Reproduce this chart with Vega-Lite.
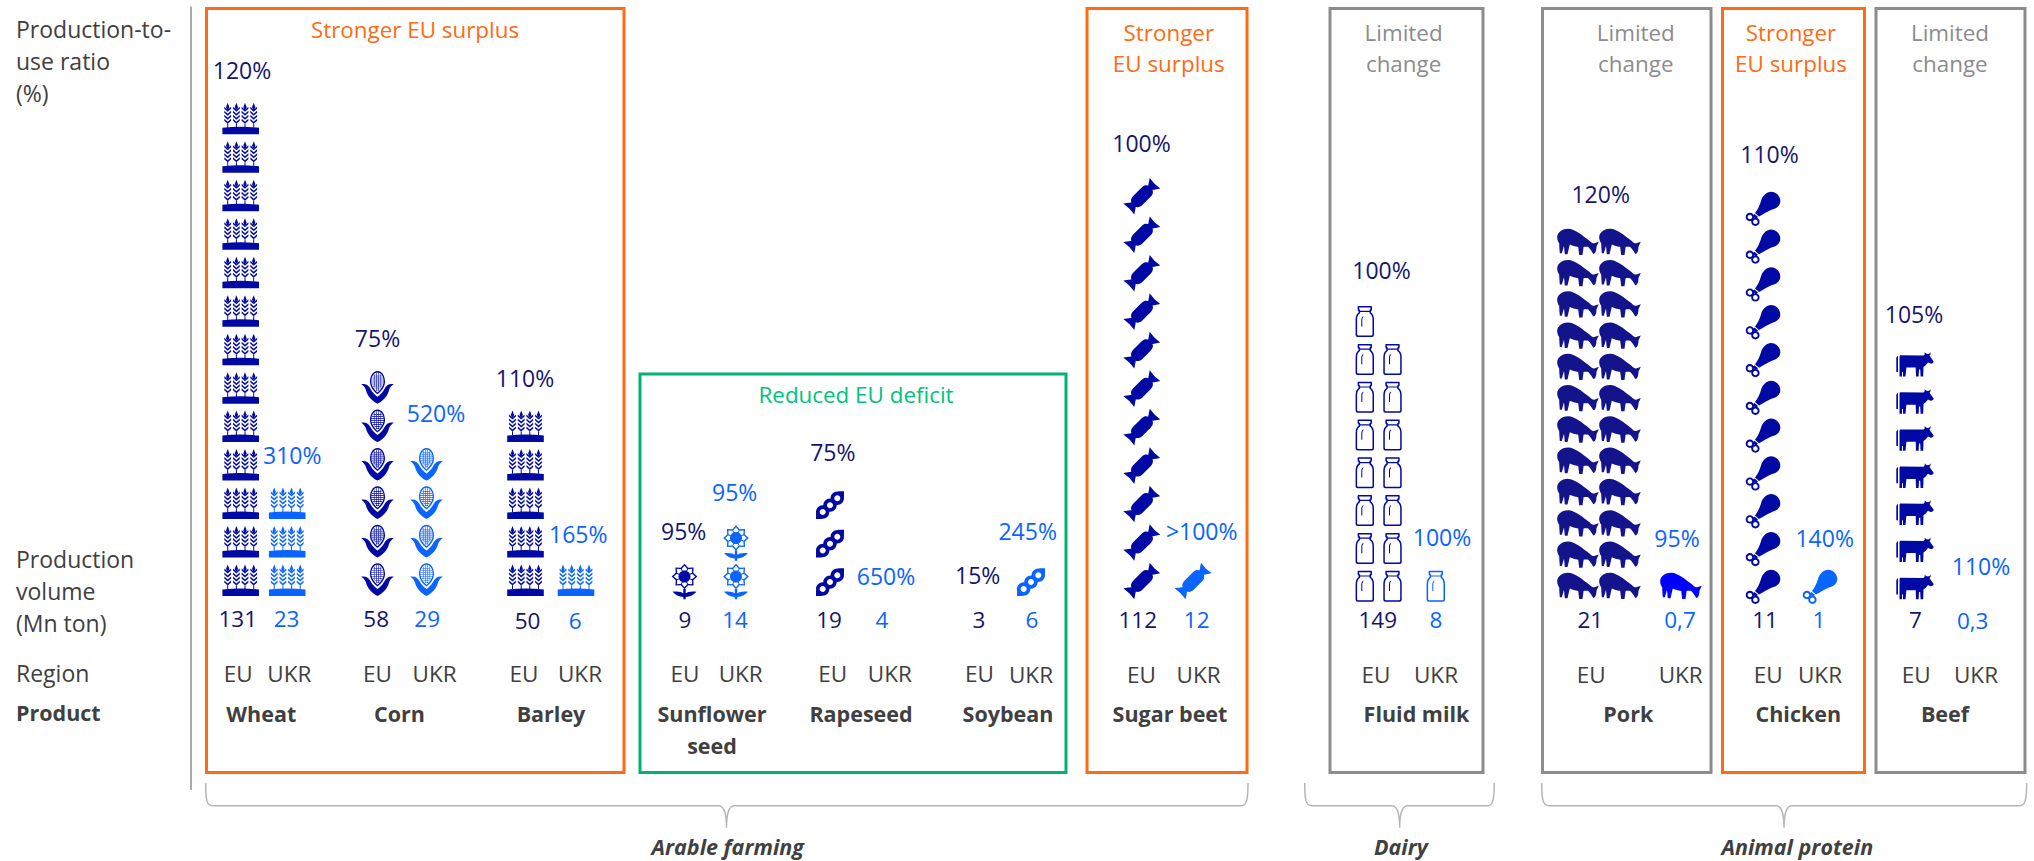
{
  "$schema": "https://vega.github.io/schema/vega-lite/v6.json",
  "width": 2034,
  "height": 861,
  "autosize": "none",
  "padding": 0,
  "background": "#ffffff",
  "config": {"view": {"stroke": null}, "text": {"font": "Open Sans"}},
  "resolve": {"scale": {"x": "independent", "y": "independent", "color": "independent", "shape": "independent", "stroke": "independent"}},
  "datasets": {
    "icons": [
      {"product":"Wheat","region":"EU","col":1,"level":1},{"product":"Wheat","region":"EU","col":1,"level":2},{"product":"Wheat","region":"EU","col":1,"level":3},{"product":"Wheat","region":"EU","col":1,"level":4},{"product":"Wheat","region":"EU","col":1,"level":5},{"product":"Wheat","region":"EU","col":1,"level":6},{"product":"Wheat","region":"EU","col":1,"level":7},{"product":"Wheat","region":"EU","col":1,"level":8},{"product":"Wheat","region":"EU","col":1,"level":9},{"product":"Wheat","region":"EU","col":1,"level":10},{"product":"Wheat","region":"EU","col":1,"level":11},{"product":"Wheat","region":"EU","col":1,"level":12},{"product":"Wheat","region":"EU","col":1,"level":13},
      {"product":"Wheat","region":"UKR","col":2,"level":1},{"product":"Wheat","region":"UKR","col":2,"level":2},{"product":"Wheat","region":"UKR","col":2,"level":3},
      {"product":"Corn","region":"EU","col":3,"level":1},{"product":"Corn","region":"EU","col":3,"level":2},{"product":"Corn","region":"EU","col":3,"level":3},{"product":"Corn","region":"EU","col":3,"level":4},{"product":"Corn","region":"EU","col":3,"level":5},{"product":"Corn","region":"EU","col":3,"level":6},
      {"product":"Corn","region":"UKR","col":4,"level":1},{"product":"Corn","region":"UKR","col":4,"level":2},{"product":"Corn","region":"UKR","col":4,"level":3},{"product":"Corn","region":"UKR","col":4,"level":4},
      {"product":"Barley","region":"EU","col":5,"level":1},{"product":"Barley","region":"EU","col":5,"level":2},{"product":"Barley","region":"EU","col":5,"level":3},{"product":"Barley","region":"EU","col":5,"level":4},{"product":"Barley","region":"EU","col":5,"level":5},
      {"product":"Barley","region":"UKR","col":6,"level":1},
      {"product":"Sunflower seed","region":"EU","col":7,"level":1},
      {"product":"Sunflower seed","region":"UKR","col":8,"level":1},{"product":"Sunflower seed","region":"UKR","col":8,"level":2},
      {"product":"Rapeseed","region":"EU","col":9,"level":1},{"product":"Rapeseed","region":"EU","col":9,"level":2},{"product":"Rapeseed","region":"EU","col":9,"level":3},
      {"product":"Soybean","region":"UKR","col":10,"level":1},
      {"product":"Sugar beet","region":"EU","col":11,"level":1},{"product":"Sugar beet","region":"EU","col":11,"level":2},{"product":"Sugar beet","region":"EU","col":11,"level":3},{"product":"Sugar beet","region":"EU","col":11,"level":4},{"product":"Sugar beet","region":"EU","col":11,"level":5},{"product":"Sugar beet","region":"EU","col":11,"level":6},{"product":"Sugar beet","region":"EU","col":11,"level":7},{"product":"Sugar beet","region":"EU","col":11,"level":8},{"product":"Sugar beet","region":"EU","col":11,"level":9},{"product":"Sugar beet","region":"EU","col":11,"level":10},{"product":"Sugar beet","region":"EU","col":11,"level":11},
      {"product":"Sugar beet","region":"UKR","col":12,"level":1},
      {"product":"Fluid milk","region":"EU","col":13,"level":1},{"product":"Fluid milk","region":"EU","col":13,"level":2},{"product":"Fluid milk","region":"EU","col":13,"level":3},{"product":"Fluid milk","region":"EU","col":13,"level":4},{"product":"Fluid milk","region":"EU","col":13,"level":5},{"product":"Fluid milk","region":"EU","col":13,"level":6},{"product":"Fluid milk","region":"EU","col":13,"level":7},{"product":"Fluid milk","region":"EU","col":13,"level":8},
      {"product":"Fluid milk","region":"EU","col":14,"level":1},{"product":"Fluid milk","region":"EU","col":14,"level":2},{"product":"Fluid milk","region":"EU","col":14,"level":3},{"product":"Fluid milk","region":"EU","col":14,"level":4},{"product":"Fluid milk","region":"EU","col":14,"level":5},{"product":"Fluid milk","region":"EU","col":14,"level":6},{"product":"Fluid milk","region":"EU","col":14,"level":7},
      {"product":"Fluid milk","region":"UKR","col":15,"level":1},
      {"product":"Pork","region":"EU","col":16,"level":1},{"product":"Pork","region":"EU","col":16,"level":2},{"product":"Pork","region":"EU","col":16,"level":3},{"product":"Pork","region":"EU","col":16,"level":4},{"product":"Pork","region":"EU","col":16,"level":5},{"product":"Pork","region":"EU","col":16,"level":6},{"product":"Pork","region":"EU","col":16,"level":7},{"product":"Pork","region":"EU","col":16,"level":8},{"product":"Pork","region":"EU","col":16,"level":9},{"product":"Pork","region":"EU","col":16,"level":10},{"product":"Pork","region":"EU","col":16,"level":11},{"product":"Pork","region":"EU","col":16,"level":12},
      {"product":"Pork","region":"EU","col":17,"level":1},{"product":"Pork","region":"EU","col":17,"level":2},{"product":"Pork","region":"EU","col":17,"level":3},{"product":"Pork","region":"EU","col":17,"level":4},{"product":"Pork","region":"EU","col":17,"level":5},{"product":"Pork","region":"EU","col":17,"level":6},{"product":"Pork","region":"EU","col":17,"level":7},{"product":"Pork","region":"EU","col":17,"level":8},{"product":"Pork","region":"EU","col":17,"level":9},{"product":"Pork","region":"EU","col":17,"level":10},{"product":"Pork","region":"EU","col":17,"level":11},{"product":"Pork","region":"EU","col":17,"level":12},
      {"product":"Pork","region":"UKR","col":18,"level":1},
      {"product":"Chicken","region":"EU","col":19,"level":1},{"product":"Chicken","region":"EU","col":19,"level":2},{"product":"Chicken","region":"EU","col":19,"level":3},{"product":"Chicken","region":"EU","col":19,"level":4},{"product":"Chicken","region":"EU","col":19,"level":5},{"product":"Chicken","region":"EU","col":19,"level":6},{"product":"Chicken","region":"EU","col":19,"level":7},{"product":"Chicken","region":"EU","col":19,"level":8},{"product":"Chicken","region":"EU","col":19,"level":9},{"product":"Chicken","region":"EU","col":19,"level":10},{"product":"Chicken","region":"EU","col":19,"level":11},
      {"product":"Chicken","region":"UKR","col":20,"level":1},
      {"product":"Beef","region":"EU","col":21,"level":1},{"product":"Beef","region":"EU","col":21,"level":2},{"product":"Beef","region":"EU","col":21,"level":3},{"product":"Beef","region":"EU","col":21,"level":4},{"product":"Beef","region":"EU","col":21,"level":5},{"product":"Beef","region":"EU","col":21,"level":6},{"product":"Beef","region":"EU","col":21,"level":7}
    ],
    "figures": [
      {"n":1,"product":"Wheat","region":"EU","ratio":"120%","volume":"131"},
      {"n":2,"product":"Wheat","region":"UKR","ratio":"310%","volume":"23"},
      {"n":3,"product":"Corn","region":"EU","ratio":"75%","volume":"58"},
      {"n":4,"product":"Corn","region":"UKR","ratio":"520%","volume":"29"},
      {"n":5,"product":"Barley","region":"EU","ratio":"110%","volume":"50"},
      {"n":6,"product":"Barley","region":"UKR","ratio":"165%","volume":"6"},
      {"n":7,"product":"Sunflower seed","region":"EU","ratio":"95%","volume":"9"},
      {"n":8,"product":"Sunflower seed","region":"UKR","ratio":"95%","volume":"14"},
      {"n":9,"product":"Rapeseed","region":"EU","ratio":"75%","volume":"19"},
      {"n":10,"product":"Rapeseed","region":"UKR","ratio":"650%","volume":"4"},
      {"n":11,"product":"Soybean","region":"EU","ratio":"15%","volume":"3"},
      {"n":12,"product":"Soybean","region":"UKR","ratio":"245%","volume":"6"},
      {"n":13,"product":"Sugar beet","region":"EU","ratio":"100%","volume":"112"},
      {"n":14,"product":"Sugar beet","region":"UKR","ratio":">100%","volume":"12"},
      {"n":15,"product":"Fluid milk","region":"EU","ratio":"100%","volume":"149"},
      {"n":16,"product":"Fluid milk","region":"UKR","ratio":"100%","volume":"8"},
      {"n":17,"product":"Pork","region":"EU","ratio":"120%","volume":"21"},
      {"n":18,"product":"Pork","region":"UKR","ratio":"95%","volume":"0,7"},
      {"n":19,"product":"Chicken","region":"EU","ratio":"110%","volume":"11"},
      {"n":20,"product":"Chicken","region":"UKR","ratio":"140%","volume":"1"},
      {"n":21,"product":"Beef","region":"EU","ratio":"105%","volume":"7"},
      {"n":22,"product":"Beef","region":"UKR","ratio":"110%","volume":"0,3"}
    ],
    "products": [
      {"n":1,"label":"Wheat"},{"n":2,"label":"Corn"},{"n":3,"label":"Barley"},{"n":4,"label":"Sunflower\nseed"},{"n":5,"label":"Rapeseed"},{"n":6,"label":"Soybean"},{"n":7,"label":"Sugar beet"},{"n":8,"label":"Fluid milk"},{"n":9,"label":"Pork"},{"n":10,"label":"Chicken"},{"n":11,"label":"Beef"}
    ],
    "frames": [
      {"n":1,"left":1,"right":2,"top":1,"bottom":3,"outcome":"Stronger EU surplus","heading":"Stronger EU surplus"},
      {"n":2,"left":3,"right":4,"top":2,"bottom":3,"outcome":"Reduced EU deficit","heading":"Reduced EU deficit"},
      {"n":3,"left":5,"right":6,"top":1,"bottom":3,"outcome":"Stronger EU surplus","heading":"Stronger\nEU surplus"},
      {"n":4,"left":7,"right":8,"top":1,"bottom":3,"outcome":"Limited change","heading":"Limited\nchange"},
      {"n":5,"left":9,"right":10,"top":1,"bottom":3,"outcome":"Limited change","heading":"Limited\nchange"},
      {"n":6,"left":11,"right":12,"top":1,"bottom":3,"outcome":"Stronger EU surplus","heading":"Stronger\nEU surplus"},
      {"n":7,"left":13,"right":14,"top":1,"bottom":3,"outcome":"Limited change","heading":"Limited\nchange"}
    ],
    "measures": [
      {"n":1,"label":"Production-to-\nuse ratio\n(%)"},
      {"n":2,"label":"Production\nvolume\n(Mn ton)"},
      {"n":3,"label":"Region"}
    ],
    "groups": [
      {"n":1,"group":"Arable farming"},{"n":2,"group":"Dairy"},{"n":3,"group":"Animal protein"}
    ],
    "divider": [{"n":1,"from":1,"to":2}]
  },
  "layer": [
    {
      "data": {"name": "divider"},
      "mark": {"type": "rule", "stroke": "#ababab", "strokeWidth": 2},
      "encoding": {
        "x": {"field": "n", "type": "quantitative", "axis": null, "scale": {"domain": [0, 1], "range": [191, 191], "zero": false, "nice": false}},
        "y": {"field": "from", "type": "quantitative", "axis": null, "scale": {"domain": [1, 2], "range": [6.5, 790], "zero": false, "nice": false}},
        "y2": {"field": "to"}
      }
    },
    {
      "data": {"name": "frames"},
      "mark": {"type": "rect", "fill": null, "filled": false, "strokeWidth": 3},
      "encoding": {
        "x": {"field": "left", "type": "quantitative", "axis": null, "scale": {"domain": [1,2,3,4,5,6,7,8,9,10,11,12,13,14], "range": [206.5,624,640,1066,1087,1247,1330,1483,1542.5,1711,1722.5,1864.5,1876,2025], "zero": false, "nice": false}},
        "x2": {"field": "right"},
        "y": {"field": "top", "type": "quantitative", "axis": null, "scale": {"domain": [1,2,3], "range": [8.5,374,772.5], "zero": false, "nice": false}},
        "y2": {"field": "bottom"},
        "stroke": {"field": "outcome", "type": "nominal", "legend": null, "scale": {"domain": ["Stronger EU surplus","Reduced EU deficit","Limited change"], "range": ["#ff6a13","#00b373","#8c8c8c"]}}
      }
    },
    {
      "data": {"name": "frames"},
      "mark": {"type": "text", "align": "center", "baseline": "alphabetic", "fontSize": 22.4, "lineBreak": "\n", "lineHeight": 31},
      "encoding": {
        "x": {"field": "n", "type": "quantitative", "axis": null, "scale": {"domain": [1,2,3,4,5,6,7], "range": [415,856,1168.8,1403.6,1635.8,1791,1950], "zero": false, "nice": false}},
        "y": {"field": "n", "type": "quantitative", "axis": null, "scale": {"domain": [1,2,3,4,5,6,7], "range": [38,403,41,41,41,41,41], "zero": false, "nice": false}},
        "text": {"field": "heading"},
        "color": {"field": "outcome", "type": "nominal", "legend": null, "scale": {"domain": ["Stronger EU surplus","Reduced EU deficit","Limited change"], "range": ["#ff6a13","#00c27c","#8c8c8c"]}}
      }
    },
    {
      "data": {"name": "icons"},
      "transform": [{"filter": {"field": "product", "oneOf": ["Wheat","Corn","Barley","Sunflower seed","Rapeseed","Soybean","Sugar beet"]}}],
      "mark": {"type": "point", "filled": true, "opacity": 1, "size": 4, "strokeWidth": 0},
      "encoding": {
        "x": {"field": "col", "type": "quantitative", "axis": null, "scale": {"domain": [1,2,3,4,5,6,7,8,9,10,11,12], "range": [240.7,287.2,377.5,426.5,525.5,576,684.5,736,830,1031,1142,1193.3], "zero": false, "nice": false}},
        "y": {"field": "level", "type": "quantitative", "axis": null, "scale": {"domain": [1, 13], "range": [596, 134.3], "zero": false, "nice": false}},
        "color": {"field": "region", "type": "nominal", "legend": null, "scale": {"domain": ["EU","UKR"], "range": ["#0009a3","#0a64ff"]}},
        "shape": {"field": "product", "type": "nominal", "legend": null, "scale": {
          "domain": ["Wheat","Corn","Barley","Sunflower seed","Rapeseed","Soybean","Sugar beet"],
          "range": [
            "M-18.3,0L18.3,0 18.3,-6.5Q0,-8.5 -18.3,-6.5ZM-13,-31.5l1.7,4.5 -1.7,3 -1.7,-3zM-13,-22.5l3.4,-3 0,-2 -3.4,3 -3.4,-3 0,2zM-13,-18.5l3.4,-3 0,-2 -3.4,3 -3.4,-3 0,2zM-13,-14.5l3.4,-3 0,-2 -3.4,3 -3.4,-3 0,2zM-13,-10.5l3.4,-3 0,-2 -3.4,3 -3.4,-3 0,2zM-13.5,-7l1,0 0,-3.5 -1,0zM-4.3,-31.5l1.7,4.5 -1.7,3 -1.7,-3zM-4.3,-22.5l3.4,-3 0,-2 -3.4,3 -3.4,-3 0,2zM-4.3,-18.5l3.4,-3 0,-2 -3.4,3 -3.4,-3 0,2zM-4.3,-14.5l3.4,-3 0,-2 -3.4,3 -3.4,-3 0,2zM-4.3,-10.5l3.4,-3 0,-2 -3.4,3 -3.4,-3 0,2zM-4.8,-7l1,0 0,-3.5 -1,0zM4.3,-31.5l1.7,4.5 -1.7,3 -1.7,-3zM4.3,-22.5l3.4,-3 0,-2 -3.4,3 -3.4,-3 0,2zM4.3,-18.5l3.4,-3 0,-2 -3.4,3 -3.4,-3 0,2zM4.3,-14.5l3.4,-3 0,-2 -3.4,3 -3.4,-3 0,2zM4.3,-10.5l3.4,-3 0,-2 -3.4,3 -3.4,-3 0,2zM3.8,-7l1,0 0,-3.5 -1,0zM13,-31.5l1.7,4.5 -1.7,3 -1.7,-3zM13,-22.5l3.4,-3 0,-2 -3.4,3 -3.4,-3 0,2zM13,-18.5l3.4,-3 0,-2 -3.4,3 -3.4,-3 0,2zM13,-14.5l3.4,-3 0,-2 -3.4,3 -3.4,-3 0,2zM13,-10.5l3.4,-3 0,-2 -3.4,3 -3.4,-3 0,2zM12.5,-7l1,0 0,-3.5 -1,0z",
            "M0,0C-2.5,-1.2 -5,-3 -7,-5.2C-9.5,-8 -11,-11 -11.5,-13.5C-12.3,-16 -14.3,-18.2 -16.3,-19.3C-12.5,-20.3 -8.5,-18.5 -6.8,-14.5C-5,-11 -2,-8.5 0,-7C2,-8.5 5,-11 6.8,-14.5C8.5,-18.5 12.5,-20.3 16.3,-19.3C14.3,-18.2 12.3,-16 11.5,-13.5C11,-11 9.5,-8 7,-5.2C5,-3 2.5,-1.2 0,0ZM0,-32.7C5,-32.7 7.5,-27 7.5,-22C7.5,-17 4,-12.5 0,-9.5C-4,-12.5 -7.5,-17 -7.5,-22C-7.5,-27 -5,-32.7 0,-32.7ZM0,-31.2C-4,-31.2 -6.2,-26.5 -6.2,-22C-6.2,-18 -3,-14 0,-11.2C3,-14 6.2,-18 6.2,-22C6.2,-26.5 4,-31.2 0,-31.2ZM-4,-28l8,0 0,.6 -8,0zM-5.5,-26l11,0 0,.6 -11,0zM-6.2,-24l12.4,0 0,.6 -12.4,0zM-6.2,-22l12.4,0 0,.6 -12.4,0zM-5.8,-20l11.6,0 0,.6 -11.6,0zM-4.6,-18l9.2,0 0,.6 -9.2,0zM-3,-16l6,0 0,.6 -6,0zM-1.5,-14l3,0 0,.6 -3,0zM-3.6,-29.5l.6,0 0,13 -.6,0zM-1.4,-31l.6,0 0,18 -.6,0zM.8,-31l.6,0 0,18 -.6,0zM3,-29.5l.6,0 0,13 -.6,0z",
            "M-18.3,0L18.3,0 18.3,-6.5Q0,-8.5 -18.3,-6.5ZM-13,-31.5l1.7,4.5 -1.7,3 -1.7,-3zM-13,-22.5l3.4,-3 0,-2 -3.4,3 -3.4,-3 0,2zM-13,-18.5l3.4,-3 0,-2 -3.4,3 -3.4,-3 0,2zM-13,-14.5l3.4,-3 0,-2 -3.4,3 -3.4,-3 0,2zM-13,-10.5l3.4,-3 0,-2 -3.4,3 -3.4,-3 0,2zM-13.5,-7l1,0 0,-3.5 -1,0zM-4.3,-31.5l1.7,4.5 -1.7,3 -1.7,-3zM-4.3,-22.5l3.4,-3 0,-2 -3.4,3 -3.4,-3 0,2zM-4.3,-18.5l3.4,-3 0,-2 -3.4,3 -3.4,-3 0,2zM-4.3,-14.5l3.4,-3 0,-2 -3.4,3 -3.4,-3 0,2zM-4.3,-10.5l3.4,-3 0,-2 -3.4,3 -3.4,-3 0,2zM-4.8,-7l1,0 0,-3.5 -1,0zM4.3,-31.5l1.7,4.5 -1.7,3 -1.7,-3zM4.3,-22.5l3.4,-3 0,-2 -3.4,3 -3.4,-3 0,2zM4.3,-18.5l3.4,-3 0,-2 -3.4,3 -3.4,-3 0,2zM4.3,-14.5l3.4,-3 0,-2 -3.4,3 -3.4,-3 0,2zM4.3,-10.5l3.4,-3 0,-2 -3.4,3 -3.4,-3 0,2zM3.8,-7l1,0 0,-3.5 -1,0zM13,-31.5l1.7,4.5 -1.7,3 -1.7,-3zM13,-22.5l3.4,-3 0,-2 -3.4,3 -3.4,-3 0,2zM13,-18.5l3.4,-3 0,-2 -3.4,3 -3.4,-3 0,2zM13,-14.5l3.4,-3 0,-2 -3.4,3 -3.4,-3 0,2zM13,-10.5l3.4,-3 0,-2 -3.4,3 -3.4,-3 0,2zM12.5,-7l1,0 0,-3.5 -1,0z",
            "M0,-32.3L3.64,-28.28 9.05,-28.55 8.78,-23.14 12.8,-19.5 8.78,-15.86 9.05,-10.45 3.64,-10.72 0,-6.7 -3.64,-10.72 -9.05,-10.45 -8.78,-15.86 -12.8,-19.5 -8.78,-23.14 -9.05,-28.55 -3.64,-28.28ZM0,-30.3L-3.02,-26.8 -7.64,-27.14 -7.3,-22.52 -10.8,-19.5 -7.3,-16.48 -7.64,-11.86 -3.02,-12.2 0,-8.7 3.02,-12.2 7.64,-11.86 7.3,-16.48 10.8,-19.5 7.3,-22.52 7.64,-27.14 3.02,-26.8ZM0,-25.5C3.3,-25.5 6,-22.8 6,-19.5C6,-16.2 3.3,-13.5 0,-13.5C-3.3,-13.5 -6,-16.2 -6,-19.5C-6,-22.8 -3.3,-25.5 0,-25.5ZM2.84,-27.52L3.68,-27.18 -2.84,-11.48 -3.68,-11.82ZM7.68,-23.18L8.02,-22.34 -7.68,-15.82 -8.02,-16.66ZM-3.68,-27.18L-2.84,-27.52 3.68,-11.82 2.84,-11.48ZM-8.02,-22.34L-7.68,-23.18 8.02,-16.66 7.68,-15.82ZM-1.2,-7L1.2,-7 1.2,3.3 -1.2,3.3ZM0,1C-5,1.5 -9,-1 -12,-4.2C-8,-5 -3,-4.5 0,-2ZM0,-2C3,-4.5 8,-5 12,-4.2C9,-1 5,1.5 0,1Z",
            "M-14,-7a6.7,6.7 0 1,1 13.4,0a6.7,6.7 0 1,1 -13.4,0ZM-6.7,-13.9a6.7,6.7 0 1,1 13.4,0a6.7,6.7 0 1,1 -13.4,0ZM.6,-20.8a6.7,6.7 0 1,1 13.4,0a6.7,6.7 0 1,1 -13.4,0ZM-4.3,-7a3,3 0 1,0 -6,0a3,3 0 1,0 6,0ZM3,-13.9a3,3 0 1,0 -6,0a3,3 0 1,0 6,0ZM10.3,-20.8a3,3 0 1,0 -6,0a3,3 0 1,0 6,0ZM-14,0L-14,-6 -8,0ZM14,-27.7L14,-22 8,-27.7Z",
            "M-14,-7a6.7,6.7 0 1,1 13.4,0a6.7,6.7 0 1,1 -13.4,0ZM-6.7,-13.9a6.7,6.7 0 1,1 13.4,0a6.7,6.7 0 1,1 -13.4,0ZM.6,-20.8a6.7,6.7 0 1,1 13.4,0a6.7,6.7 0 1,1 -13.4,0ZM-4.3,-7a3,3 0 1,0 -6,0a3,3 0 1,0 6,0ZM3,-13.9a3,3 0 1,0 -6,0a3,3 0 1,0 6,0ZM10.3,-20.8a3,3 0 1,0 -6,0a3,3 0 1,0 6,0ZM-14,0L-14,-6 -8,0ZM14,-27.7L14,-22 8,-27.7Z",
            "M-.35,-23.84C2.83,-27.02 6.36,-26.31 8.84,-23.84C11.31,-21.36 12.02,-17.83 8.84,-14.65L.35,-6.16C-2.83,-2.98 -6.36,-3.69 -8.84,-6.16C-11.31,-8.64 -12.02,-12.17 -8.84,-15.35ZM6,-24.5L7.7,-33.3 12.5,-27.5 18.3,-22.7 9.5,-21ZM-6,-5.5L-7.7,3.3 -12.5,-2.5 -18.7,-7.7 -9.5,-9Z"
          ]
        }}
      }
    },
    {
      "data": {"name": "icons"},
      "transform": [{"filter": {"field": "product", "oneOf": ["Fluid milk","Chicken"]}}],
      "mark": {"type": "point", "filled": true, "opacity": 1, "size": 4, "strokeWidth": 0},
      "encoding": {
        "x": {"field": "col", "type": "quantitative", "axis": null, "scale": {"domain": [13,14,15,19,20], "range": [1364.8,1392.5,1435.8,1763,1820], "zero": false, "nice": false}},
        "y": {"field": "level", "type": "quantitative", "axis": null, "scale": {"domain": [1, 11], "range": [596, 218], "zero": false, "nice": false}},
        "color": {"field": "region", "type": "nominal", "legend": null, "scale": {"domain": ["EU","UKR"], "range": ["#0009a3","#0a64ff"]}},
        "shape": {"field": "product", "type": "nominal", "legend": null, "scale": {
          "domain": ["Fluid milk","Chicken"],
          "range": [
            "M-6.5,-25.3L6.5,-25.3Q7.2,-25.3 7.2,-24L7.2,-22Q7.2,-21 6.2,-20.5L6.2,-19Q9.2,-17 9.2,-12L9.2,3.7Q9.2,5.7 7.2,5.7L-7.2,5.7Q-9.2,5.7 -9.2,3.7L-9.2,-12Q-9.2,-17 -6.2,-19L-6.2,-20.5Q-7.2,-21 -7.2,-22L-7.2,-24Q-7.2,-25.3 -6.5,-25.3ZM-5.7,-23.8L-5.7,-22.6Q-5.7,-22 -4.7,-21.5L-4.7,-18.2Q-7.7,-16.5 -7.7,-12L-7.7,3.2Q-7.7,4.2 -6.7,4.2L6.7,4.2Q7.7,4.2 7.7,3.2L7.7,-12Q7.7,-16.5 4.7,-18.2L4.7,-21.5Q5.7,-22 5.7,-22.6L5.7,-23.8ZM-5,-20.6L5,-20.6 5,-19.4 -5,-19.4ZM-3.5,-12Q-3.5,-14.5 -1.5,-15.5L-1.5,-14.3Q-2.5,-13.6 -2.5,-12L-2.5,-5 -3.5,-5Z",
            "M-8,-5C-5.5,-8 -3.5,-12 -2,-17C-1,-22 4,-26.3 8,-26.3C13,-26.3 17.3,-22 17.3,-17C17.3,-12 13,-9.5 9,-8.5C5,-7 0,-3.5 -4,-1.5ZM-8.5,-4L-5,-1 -7.5,1 -10,-2.5ZM-17.3,-1a4.2,4.2 0 1,1 8.4,0a4.2,4.2 0 1,1 -8.4,0ZM-11.8,3.8a4.2,4.2 0 1,1 8.4,0a4.2,4.2 0 1,1 -8.4,0ZM-10.8,-1a2.3,2.3 0 1,0 -4.6,0a2.3,2.3 0 1,0 4.6,0ZM-5.3,3.8a2.3,2.3 0 1,0 -4.6,0a2.3,2.3 0 1,0 4.6,0Z"
          ]
        }}
      }
    },
    {
      "data": {"name": "icons"},
      "transform": [{"filter": {"field": "product", "equal": "Beef"}}],
      "mark": {"type": "point", "filled": true, "opacity": 1, "size": 4, "strokeWidth": 0},
      "encoding": {
        "x": {"field": "col", "type": "quantitative", "axis": null, "scale": {"domain": [20, 21], "range": [1860, 1915], "zero": false, "nice": false}},
        "y": {"field": "level", "type": "quantitative", "axis": null, "scale": {"domain": [1, 7], "range": [596, 373.4], "zero": false, "nice": false}},
        "color": {"field": "region", "type": "nominal", "legend": null, "scale": {"domain": ["EU","UKR"], "range": ["#0009a3","#0a64ff"]}},
        "shape": {"field": "product", "type": "nominal", "legend": null, "scale": {
          "domain": ["Beef"],
          "range": ["M-15,-18.2L8.5,-18C9.5,-18.5 10,-20 9.6,-21.5C10.5,-20.5 11.5,-19.5 13,-19.5C14,-19.5 15,-20.5 15.4,-21.5C15.8,-19.5 15.5,-18.5 14.5,-17.8L18.7,-12C18.5,-10.5 17,-9.5 15.5,-9.8L13,-11C11.5,-9 10,-7.5 8.5,-6.5L8.2,3.2 5.6,3.2 5.2,-4 4,-4 3.6,3.2 1,3.2 .7,-5.8 -8.6,-5.8 -9.5,3.2 -12,3.2 -12,-1.5 -13,-1.5 -13,3.2 -15.5,3.2 -15.5,-16Q-15.5,-18 -15,-18.2ZM-18.7,-16L-17,-18 -17,-1.5 -18.7,-1.5Z"]
        }}
      }
    },
    {
      "data": {"name": "icons"},
      "transform": [{"filter": {"field": "product", "equal": "Pork"}}],
      "mark": {"type": "point", "filled": true, "opacity": 1, "size": 4, "strokeWidth": 0},
      "encoding": {
        "x": {"field": "col", "type": "quantitative", "axis": null, "scale": {"domain": [16,17,18], "range": [1578,1620,1681], "zero": false, "nice": false}},
        "y": {"field": "level", "type": "quantitative", "axis": null, "scale": {"domain": [1, 12], "range": [596, 252], "zero": false, "nice": false}},
        "color": {"field": "region", "type": "nominal", "legend": null, "scale": {"domain": ["EU","UKR"], "range": ["#13138c","#0000ff"]}},
        "shape": {"field": "product", "type": "nominal", "legend": null, "scale": {
          "domain": ["Pork"],
          "range": ["M-20.8,-15.3C-20.5,-20 -15,-23.5 -9.8,-23.3C-3,-23 4,-17 11.8,-11C13,-9.5 15,-8.5 16.2,-8.7L20.8,-10.3 19,-6.5 18.5,-5.3C18.5,-3 18,0 16.8,1.3L15.2,2C14,0 12.5,-3 10.2,-5C8,-5.5 6.5,-5 5.6,-5L4.5,3 1.2,3 .2,-5C-3,-5.5 -6,-6.5 -8.2,-7.5L-10.5,2.3 -13.2,2.3 -14,-6 -16.2,1.3 -18.2,1.3C-18.5,-3 -18.8,-6 -18.8,-8.7C-20,-10.5 -21,-13 -20.8,-15.3Z"]
        }}
      }
    },
    {
      "data": {"name": "figures"},
      "mark": {"type": "text", "align": "center", "baseline": "alphabetic", "fontSize": 23},
      "encoding": {
        "x": {"field": "n", "type": "quantitative", "axis": null, "scale": {"domain": [1,2,3,4,5,6,7,8,9,10,11,12,13,14,15,16,17,18,19,20,21,22], "range": [242,292.3,377.5,436,525,578.3,683.7,734.7,832.8,886,977.7,1027.7,1141.5,1201.7,1381.5,1442,1600.7,1677,1769.5,1824.7,1914,1981], "zero": false, "nice": false}},
        "y": {"field": "n", "type": "quantitative", "axis": null, "scale": {"domain": [1,2,3,4,5,6,7,8,9,10,11,12,13,14,15,16,17,18,19,20,21,22], "range": [79.3,464,347,421.5,387,543.3,540,500.7,461,585,584.3,540,152,540,279,546,202.7,547.3,162.5,547.3,322.7,575], "zero": false, "nice": false}},
        "text": {"field": "ratio"},
        "color": {"field": "region", "type": "nominal", "legend": null, "scale": {"domain": ["EU","UKR"], "range": ["#15156e","#0a64ff"]}}
      }
    },
    {
      "data": {"name": "figures"},
      "mark": {"type": "text", "align": "center", "baseline": "alphabetic", "fontSize": 22.5},
      "encoding": {
        "x": {"field": "n", "type": "quantitative", "axis": null, "scale": {"domain": [1,2,3,4,5,6,7,8,9,10,11,12,13,14,15,16,17,18,19,20,21,22], "range": [237.7,286.5,376.2,427.2,527.5,575.2,685,735,829,882,979,1032,1137.8,1196.7,1377.8,1436,1590.3,1680,1765,1819,1915.5,1972.7], "zero": false, "nice": false}},
        "y": {"field": "n", "type": "quantitative", "axis": null, "scale": {"domain": [1,2,3,4,5,6,7,8,9,10,11,12,13,14,15,16,17,18,19,20,21,22], "range": [627,627,627,627,629.3,629.3,627.7,627.7,627.7,627.7,627.7,627.7,627.7,627.7,627.7,627.7,628.3,628.3,628.3,628.3,628.3,629.3], "zero": false, "nice": false}},
        "text": {"field": "volume"},
        "color": {"field": "region", "type": "nominal", "legend": null, "scale": {"domain": ["EU","UKR"], "range": ["#15156e","#0a64ff"]}}
      }
    },
    {
      "data": {"name": "figures"},
      "mark": {"type": "text", "align": "center", "baseline": "alphabetic", "fontSize": 22.5, "fill": "#404040"},
      "encoding": {
        "x": {"field": "n", "type": "quantitative", "axis": null, "scale": {"domain": [1,2,3,4,5,6,7,8,9,10,11,12,13,14,15,16,17,18,19,20,21,22], "range": [238.3,289.3,377.5,434.6,524,580,685,740.7,832.8,889.9,979.4,1031,1141.5,1198.6,1376,1436,1591.3,1680.7,1768.3,1820,1916.3,1976], "zero": false, "nice": false}},
        "y": {"field": "n", "type": "quantitative", "axis": null, "scale": {"domain": [1, 22], "range": [682, 683], "zero": false, "nice": false}},
        "text": {"field": "region"}
      }
    },
    {
      "data": {"name": "products"},
      "mark": {"type": "text", "align": "center", "baseline": "alphabetic", "fontSize": 21.5, "fontWeight": "bold", "fill": "#404040", "lineBreak": "\n", "lineHeight": 32},
      "encoding": {
        "x": {"field": "n", "type": "quantitative", "axis": null, "scale": {"domain": [1,2,3,4,5,6,7,8,9,10,11], "range": [261.3,399.5,551,712,861,1008,1170,1416.5,1628.3,1798.3,1945], "zero": false, "nice": false}},
        "y": {"field": "n", "type": "quantitative", "axis": null, "scale": {"domain": [1, 11], "range": [721.5, 721.5], "zero": false, "nice": false}},
        "text": {"field": "label"}
      }
    },
    {
      "data": {"name": "measures"},
      "mark": {"type": "text", "align": "left", "baseline": "alphabetic", "fontSize": 23, "fill": "#404040", "lineBreak": "\n", "lineHeight": 32},
      "encoding": {
        "x": {"field": "n", "type": "quantitative", "axis": null, "scale": {"domain": [1, 3], "range": [16, 16], "zero": false, "nice": false}},
        "y": {"field": "n", "type": "quantitative", "axis": null, "scale": {"domain": [1,2,3], "range": [38.3,568.3,681.7], "zero": false, "nice": false}},
        "text": {"field": "label"}
      }
    },
    {
      "data": {"values": [{"n": 1, "label": "Product"}]},
      "mark": {"type": "text", "align": "left", "baseline": "alphabetic", "fontSize": 21.5, "fontWeight": "bold", "fill": "#404040"},
      "encoding": {
        "x": {"field": "n", "type": "quantitative", "axis": null, "scale": {"domain": [0, 1], "range": [16, 16], "zero": false, "nice": false}},
        "y": {"field": "n", "type": "quantitative", "axis": null, "scale": {"domain": [0, 1], "range": [721, 721], "zero": false, "nice": false}},
        "text": {"field": "label"}
      }
    },
    {
      "data": {"name": "groups"},
      "mark": {"type": "point", "filled": false, "opacity": 1, "size": 4, "stroke": "#b5b5b5", "strokeWidth": 1.5},
      "encoding": {
        "x": {"field": "n", "type": "quantitative", "axis": null, "scale": {"domain": [1,2,3], "range": [726.5,1399.7,1784], "zero": false, "nice": false}},
        "y": {"field": "n", "type": "quantitative", "axis": null, "scale": {"domain": [1, 3], "range": [805.7, 805.7], "zero": false, "nice": false}},
        "shape": {"field": "group", "type": "nominal", "legend": null, "scale": {
          "domain": ["Arable farming","Dairy","Animal protein"],
          "range": [
            "M-520.8,-22.7C-520.8,-6 -520,0 -514,0L-8,0C-3,0 0,5 0,22C0,5 3,0 8,0L515,0C520,0 521.5,-6 521.5,-22.7",
            "M-95,-22.7C-95,-6 -94,0 -88,0L-8,0C-3,0 0,5 0,22C0,5 3,0 8,0L88,0C93,0 94.6,-6 94.6,-22.7",
            "M-242.3,-22.7C-242.3,-6 -241,0 -235,0L-8,0C-3,0 0,5 0,22C0,5 3,0 8,0L236,0C241,0 242.7,-6 242.7,-22.7"
          ]
        }}
      }
    },
    {
      "data": {"name": "groups"},
      "mark": {"type": "text", "align": "center", "baseline": "alphabetic", "fontSize": 21.5, "fontWeight": "bold", "fontStyle": "italic", "fill": "#404040"},
      "encoding": {
        "x": {"field": "n", "type": "quantitative", "axis": null, "scale": {"domain": [1,2,3], "range": [727.7,1401,1797.3], "zero": false, "nice": false}},
        "y": {"field": "n", "type": "quantitative", "axis": null, "scale": {"domain": [1, 3], "range": [855, 855], "zero": false, "nice": false}},
        "text": {"field": "group"}
      }
    }
  ]
}
